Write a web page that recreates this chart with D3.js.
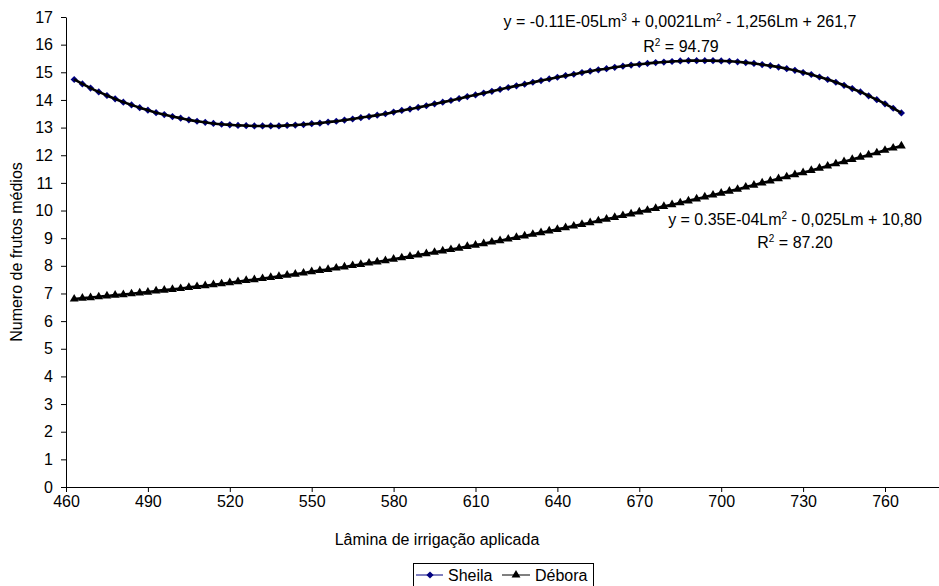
<!DOCTYPE html>
<html>
<head>
<meta charset="utf-8">
<script src="https://cdn.jsdelivr.net/npm/d3@7/dist/d3.min.js"></script>
<style>
  html, body { margin: 0; padding: 0; background: #fff; }
  svg { display: block; font-family: "Liberation Sans", Arial, sans-serif; }
</style>
</head>
<body>
<svg id="chart" width="939" height="586"></svg>
<script>
// Irrigation depth (x) at which each average is plotted
const lamina = [463,466,469,472,475,478,481,484,487,490,493,496,499,502,505,508,511,514,517,520,
  523,526,529,532,535,538,541,544,547,550,553,556,559,562,565,568,571,574,577,580,
  583,586,589,592,595,598,601,604,607,610,613,616,619,622,625,628,631,634,637,640,
  643,646,649,652,655,658,661,664,667,670,673,676,679,682,685,688,691,694,697,700,
  703,706,709,712,715,718,721,724,727,730,733,736,739,742,745,748,751,754,757,760,
  763,766];

// Average number of fruits, cultivar Sheila
const sheila = [14.74,14.58,14.43,14.29,14.16,14.04,13.92,13.82,13.72,13.63,13.54,13.47,13.40,13.34,13.28,13.23,13.19,13.15,13.12,13.10,
  13.08,13.07,13.06,13.06,13.06,13.06,13.08,13.09,13.11,13.14,13.16,13.20,13.23,13.27,13.31,13.36,13.40,13.45,13.50,13.56,
  13.62,13.67,13.73,13.79,13.86,13.92,13.98,14.05,14.12,14.18,14.25,14.31,14.38,14.45,14.51,14.57,14.64,14.70,14.76,14.82,
  14.88,14.93,14.99,15.04,15.09,15.13,15.18,15.22,15.26,15.29,15.32,15.35,15.37,15.39,15.41,15.42,15.42,15.42,15.42,15.41,
  15.40,15.38,15.35,15.32,15.28,15.24,15.19,15.13,15.07,14.99,14.92,14.83,14.74,14.64,14.53,14.41,14.29,14.15,14.01,13.86,
  13.70,13.53];

// Average number of fruits, cultivar Débora
const debora = [6.80,6.83,6.85,6.88,6.91,6.94,6.96,6.99,7.02,7.05,7.09,7.12,7.15,7.18,7.22,7.25,7.28,7.32,7.35,7.39,
  7.43,7.47,7.50,7.54,7.58,7.62,7.66,7.70,7.74,7.79,7.83,7.87,7.92,7.96,8.01,8.05,8.10,8.14,8.19,8.24,
  8.29,8.34,8.39,8.44,8.49,8.54,8.59,8.64,8.70,8.75,8.80,8.86,8.91,8.97,9.03,9.08,9.14,9.20,9.26,9.32,
  9.38,9.44,9.50,9.56,9.63,9.69,9.75,9.82,9.88,9.95,10.01,10.08,10.15,10.21,10.28,10.35,10.42,10.49,10.56,10.63,
  10.70,10.77,10.85,10.92,11.00,11.07,11.15,11.22,11.30,11.37,11.45,11.53,11.61,11.69,11.77,11.85,11.93,12.01,12.09,12.18,
  12.26,12.34];

const xTicks = [460,490,520,550,580,610,640,670,700,730,760];
const yTicks = [0,1,2,3,4,5,6,7,8,9,10,11,12,13,14,15,16,17];

const seriesNames = ["Sheila", "Débora"];
const xTitle = "Lâmina de irrigação aplicada";
const yTitle = "Numero de frutos médios";

const svg = d3.select("#chart");
const FONT = 16;

const x = d3.scaleLinear().domain([460, 780]).range([66, 939.6]);
const y = d3.scaleLinear().domain([0, 17]).range([487, 17]);

// Axes
const xAxis = svg.append("g")
  .attr("transform", `translate(0,${y(0)})`)
  .call(d3.axisBottom(x).tickValues(xTicks).tickSize(5).tickPadding(4).tickSizeOuter(0));
const yAxis = svg.append("g")
  .attr("transform", `translate(${x(460)},0)`)
  .call(d3.axisLeft(y).tickValues(yTicks).tickSize(5).tickPadding(8).tickSizeOuter(0));

[xAxis, yAxis].forEach(g => {
  g.select(".domain").attr("stroke", "#000").attr("stroke-width", 1);
  g.selectAll(".tick line").attr("stroke", "#000");
  g.selectAll(".tick text")
    .attr("fill", "#000")
    .style("font-family", '"Liberation Sans", Arial, sans-serif')
    .style("font-size", FONT + "px");
});

// Axis titles
svg.append("text")
  .attr("x", (x(460) + 808) / 2)
  .attr("y", 545)
  .attr("text-anchor", "middle")
  .style("font-size", FONT + "px")
  .text(xTitle);

svg.append("text")
  .attr("transform", `translate(22,${(y(0) + y(17)) / 2}) rotate(-90)`)
  .attr("text-anchor", "middle")
  .style("font-size", FONT + "px")
  .text(yTitle);

const pts = vals => lamina.map((lm, i) => [lm, vals[i]]);
const line = d3.line().x(d => x(d[0])).y(d => y(d[1]));

const diamond = r => `M0,${-r}L${r},0L0,${r}L${-r},0Z`;
const triangle = d3.symbol().type(d3.symbolTriangle).size(34)();

// Sheila: navy series with diamond markers
svg.append("path").datum(pts(sheila))
  .attr("d", line).attr("fill", "none").attr("stroke", "#000080").attr("stroke-width", 1);
svg.append("g").selectAll("path").data(pts(sheila)).join("path")
  .attr("transform", d => `translate(${x(d[0])},${y(d[1])})`)
  .attr("d", diamond(3.6)).attr("fill", "#000080");

// Débora: black series with triangle markers
svg.append("path").datum(pts(debora))
  .attr("d", line).attr("fill", "none").attr("stroke", "#000").attr("stroke-width", 1);
svg.append("g").selectAll("path").data(pts(debora)).join("path")
  .attr("transform", d => `translate(${x(d[0])},${y(d[1])})`)
  .attr("d", triangle).attr("fill", "#000");

// Polynomial trend lines on top of both series
[sheila, debora].forEach(vals => {
  svg.append("path").datum(pts(vals))
    .attr("d", line.curve(d3.curveCatmullRom))
    .attr("fill", "none").attr("stroke", "#000").attr("stroke-width", 2.6);
  line.curve(d3.curveLinear);
});

// Trend equations
function equation(cx, by, parts) {
  const t = svg.append("text").attr("x", cx).attr("y", by)
    .attr("text-anchor", "middle").style("font-size", FONT + "px");
  parts.forEach(p => {
    if (typeof p === "string") {
      t.append("tspan").text(p);
    } else {
      t.append("tspan").attr("dy", -6).style("font-size", "10px").text(p.sup);
      t.append("tspan").attr("dy", 6).text(p.after);
    }
  });
}
equation(680, 27, ["y = -0.11E-05Lm", {sup: "3", after: " + 0,0021Lm"}, {sup: "2", after: " - 1,256Lm + 261,7"}]);
equation(681, 52, ["R", {sup: "2", after: " = 94.79"}]);
equation(795, 225, ["y = 0.35E-04Lm", {sup: "2", after: " - 0,025Lm + 10,80"}]);
equation(795, 248, ["R", {sup: "2", after: " = 87.20"}]);

// Legend
const lg = svg.append("g").attr("transform", "translate(413,563)");
lg.append("rect").attr("x", 0.5).attr("y", 0.5).attr("width", 180).attr("height", 24)
  .attr("fill", "#fff").attr("stroke", "#000");
lg.append("line").attr("x1", 3).attr("x2", 30).attr("y1", 12).attr("y2", 12)
  .attr("stroke", "#000080").attr("stroke-width", 1);
lg.append("path").attr("transform", "translate(17,12)").attr("d", diamond(3.6)).attr("fill", "#000080");
lg.append("text").attr("x", 35).attr("y", 18).style("font-size", FONT + "px").text(seriesNames[0]);
lg.append("line").attr("x1", 89).attr("x2", 117).attr("y1", 12).attr("y2", 12)
  .attr("stroke", "#000").attr("stroke-width", 1);
lg.append("path").attr("transform", "translate(103,12)").attr("d", triangle).attr("fill", "#000");
lg.append("text").attr("x", 122).attr("y", 18).style("font-size", FONT + "px").text(seriesNames[1]);
</script>
</body>
</html>
